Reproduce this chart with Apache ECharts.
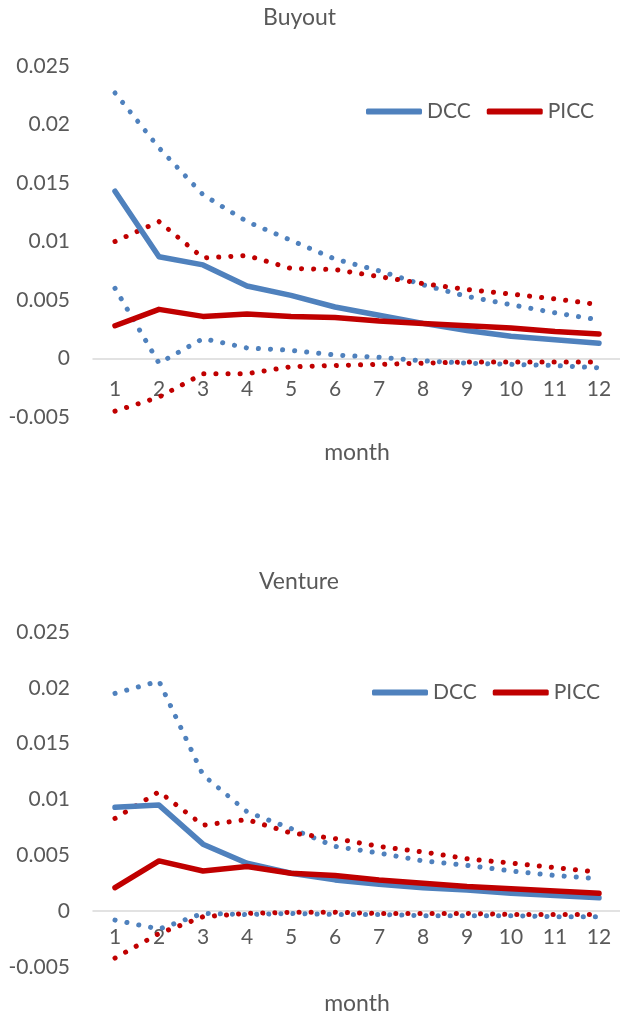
<!DOCTYPE html>
<html>
<head>
<meta charset="utf-8">
<script src="https://cdn.jsdelivr.net/npm/echarts@6/dist/echarts.min.js"></script>
<style>
html,body{margin:0;padding:0;background:#fff;}
#chart{width:620px;height:1014px;}
</style>
</head>
<body>
<div id="chart"></div>
<script>
var months = ['1','2','3','4','5','6','7','8','9','10','11','12'];
var yTicks = [-0.005, 0, 0.005, 0.01, 0.015, 0.02, 0.025];

var buyoutDCC       = [0.0143, 0.0087, 0.0080, 0.0062, 0.0054, 0.0044, 0.0037, 0.0030, 0.0024, 0.0019, 0.0016, 0.0013];
var buyoutPICC      = [0.0028, 0.0042, 0.0036, 0.0038, 0.0036, 0.0035, 0.0032, 0.0030, 0.0028, 0.0026, 0.0023, 0.0021];
var buyoutDCCUpper  = [0.0227, 0.0180, 0.0140, 0.0117, 0.0101, 0.0085, 0.0075, 0.0063, 0.0053, 0.0046, 0.0039, 0.0033];
var buyoutDCCLower  = [0.0060, -0.0004, 0.0017, 0.0009, 0.0007, 0.0003, 0.0001, -0.0002, -0.0004, -0.0005, -0.0006, -0.0008];
var buyoutPICCUpper = [0.0100, 0.0117, 0.0086, 0.0088, 0.0077, 0.0076, 0.0070, 0.0064, 0.0059, 0.0055, 0.0051, 0.0046];
var buyoutPICCLower = [-0.0045, -0.0033, -0.0013, -0.0013, -0.0007, -0.0006, -0.0005, -0.0004, -0.0003, -0.0003, -0.0003, -0.0003];

var ventureDCC       = [0.0093, 0.0095, 0.0060, 0.0043, 0.0034, 0.0028, 0.0024, 0.0021, 0.0019, 0.0016, 0.0014, 0.0012];
var venturePICC      = [0.0021, 0.0045, 0.0036, 0.0040, 0.0034, 0.0032, 0.0028, 0.0025, 0.0022, 0.0020, 0.0018, 0.0016];
var ventureDCCUpper  = [0.0195, 0.0206, 0.0122, 0.0089, 0.0074, 0.0058, 0.0052, 0.0045, 0.0041, 0.0036, 0.0032, 0.0029];
var ventureDCCLower  = [-0.0008, -0.0016, -0.0002, -0.0003, -0.0002, -0.0003, -0.0003, -0.0004, -0.0004, -0.0004, -0.0005, -0.0005];
var venturePICCUpper = [0.0083, 0.0107, 0.0077, 0.0082, 0.0070, 0.0065, 0.0058, 0.0053, 0.0047, 0.0043, 0.0039, 0.0035];
var venturePICCLower = [-0.0042, -0.0020, -0.0005, -0.0002, -0.0001, -0.0001, -0.0002, -0.0002, -0.0002, -0.0003, -0.0003, -0.0003];

var BLUE = '#4F81BD', RED = '#C00000', TXT = '#595959', FONT = 'Lato';

function xAx(gi, labelMargin, nameGap){
  return {
    type:'category', gridIndex:gi, data:months, boundaryGap:true,
    axisLine:{onZero:true, lineStyle:{color:'#D9D9D9', width:1.5}},
    axisTick:{show:false},
    axisLabel:{color:TXT, fontSize:21, fontFamily:FONT, margin:labelMargin},
    name:'month', nameLocation:'middle', nameGap:nameGap, nameMoveOverlap:false,
    nameTextStyle:{color:TXT, fontSize:23, fontFamily:FONT},
    splitLine:{show:false}
  };
}
function yAx(gi){
  return {
    type:'value', gridIndex:gi,
    min:yTicks[0], max:yTicks[yTicks.length-1], interval:0.005,
    axisLine:{show:false}, axisTick:{show:false}, splitLine:{show:false},
    axisLabel:{color:TXT, fontSize:21, fontFamily:FONT, margin:23,
      formatter:function(v){ return String(+v.toFixed(3)); }}
  };
}
function solid(name, data, color, gi){
  return {name:name, type:'line', xAxisIndex:gi, yAxisIndex:gi, data:data,
    symbol:'none', z:3, color:color,
    lineStyle:{color:color, width:5.5, cap:'round', join:'round'}};
}
function dotted(name, data, color, gi){
  return {name:name, type:'line', xAxisIndex:gi, yAxisIndex:gi, data:data,
    symbol:'none', z:2, color:color,
    lineStyle:{color:color, width:5, type:[0.1, 12], cap:'round', join:'round'}};
}
function legend(left, top){
  return {data:['DCC','PICC'], left:left, top:top, padding:0,
    itemWidth:56, itemHeight:6, itemGap:16, icon:'roundRect',
    textStyle:{color:TXT, fontSize:21, fontFamily:FONT}, selectedMode:false};
}

var chart = echarts.init(document.getElementById('chart'));
chart.setOption({
  animation:false,
  backgroundColor:'#fff',
  textStyle:{fontFamily:FONT},
  title:[
    {text:'Buyout', left:263, top:6, padding:0, textStyle:{color:TXT, fontSize:23, fontWeight:'normal', fontFamily:FONT}},
    {text:'Venture', left:259, top:570, padding:0, textStyle:{color:TXT, fontSize:23, fontWeight:'normal', fontFamily:FONT}}
  ],
  legend:[legend(366, 101), legend(372, 682)],
  grid:[
    {left:93, width:528, top:66, height:351, outerBoundsMode:'none', containLabel:false},
    {left:93, width:528, top:632, height:335, outerBoundsMode:'none', containLabel:false}
  ],
  xAxis:[xAx(0, -38, 24), xAx(1, -40, 25)],
  yAxis:[yAx(0), yAx(1)],
  series:[
    dotted('DCC upper', buyoutDCCUpper, BLUE, 0),
    dotted('DCC lower', buyoutDCCLower, BLUE, 0),
    dotted('PICC upper', buyoutPICCUpper, RED, 0),
    dotted('PICC lower', buyoutPICCLower, RED, 0),
    solid('DCC', buyoutDCC, BLUE, 0),
    solid('PICC', buyoutPICC, RED, 0),
    dotted('DCC upper', ventureDCCUpper, BLUE, 1),
    dotted('DCC lower', ventureDCCLower, BLUE, 1),
    dotted('PICC upper', venturePICCUpper, RED, 1),
    dotted('PICC lower', venturePICCLower, RED, 1),
    solid('DCC', ventureDCC, BLUE, 1),
    solid('PICC', venturePICC, RED, 1)
  ]
});
</script>
</body>
</html>
